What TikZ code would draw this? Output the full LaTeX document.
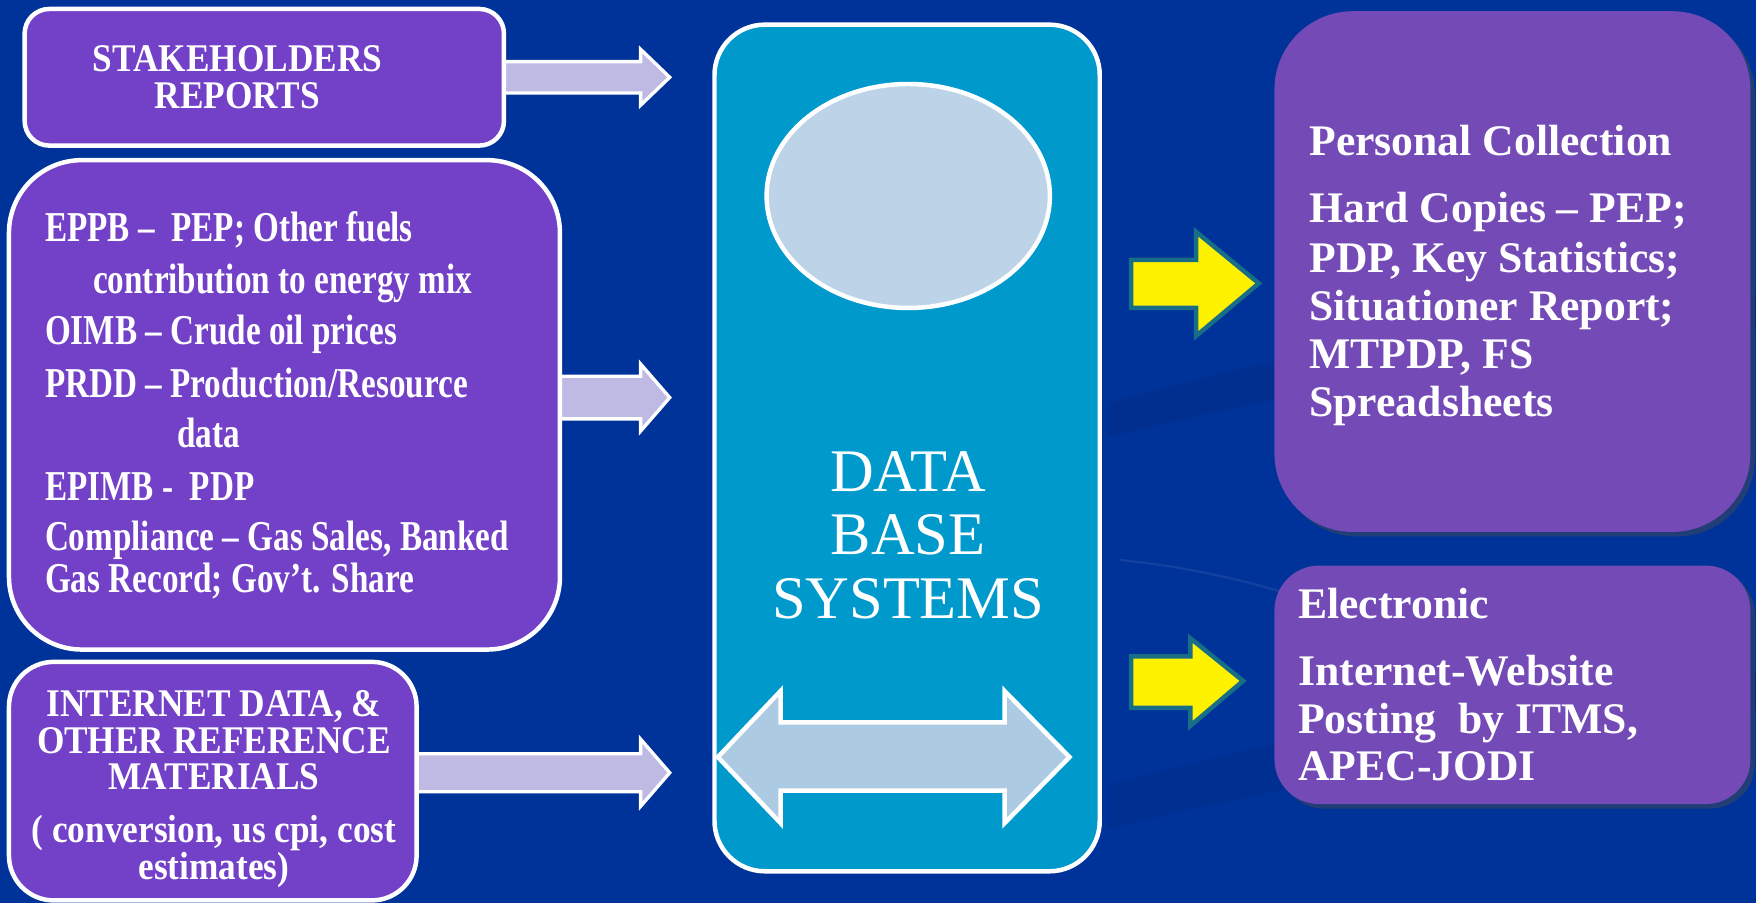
\documentclass[tikz,border=0pt]{standalone}
\usepackage{fontspec}
\setmainfont{Liberation Serif}
\newfontfamily\goudyL[FakeStretch=0.78]{Liberation Serif}
\newfontfamily\goudyC[FakeStretch=0.9]{Liberation Serif}
\newfontfamily\goudyR[FakeStretch=1.0]{Liberation Serif}
\usetikzlibrary{shadows,shapes.geometric}
\definecolor{bg}{RGB}{0,51,153}
\definecolor{bgdark}{RGB}{0,40,130}
\definecolor{leftbox}{RGB}{115,64,200}
\definecolor{rightbox}{RGB}{116,74,182}
\definecolor{cyanbox}{RGB}{0,153,204}
\definecolor{ellfill}{RGB}{189,212,232}
\definecolor{dafill}{RGB}{172,202,226}
\definecolor{arrowfill}{RGB}{190,186,228}
\definecolor{tealborder}{RGB}{25,110,135}
\tikzset{
  lbox/.style={draw=white, line width=4pt, fill=leftbox, rectangle, inner sep=0pt},
  rbox/.style={fill=rightbox, rectangle, inner sep=0pt,
     drop shadow={shadow xshift=4pt, shadow yshift=-4pt, opacity=0.45, fill=black!70}},
  btxt/.style={text=white, font=\goudyL\bfseries\fontsize{38}{41}\selectfont, inner sep=0pt, anchor=base west},
  ctxt/.style={text=white, font=\goudyC\bfseries\fontsize{35}{38}\selectfont, inner sep=0pt, anchor=base},
  rtxt/.style={text=white, font=\goudyR\bfseries\fontsize{39}{43}\selectfont, inner sep=0pt, anchor=base west},
  blockarrow/.style={draw=white, line width=3pt, fill=arrowfill, line join=miter},
  yarrow/.style={draw=tealborder, line width=4pt, fill=yellow, line join=miter},
}
\begin{document}
\begin{tikzpicture}[x=1pt,y=-1pt]
\fill[bg] (0,0) rectangle (1568,806);
\useasboundingbox (0,0) rectangle (1568,806);
% faint background swooshes
\fill[bgdark, opacity=0.35] (990,360) .. controls (1200,300) and (1400,270) .. (1568,262) -- (1568,295) .. controls (1400,305) and (1200,340) .. (990,390) -- cycle;
\fill[bgdark, opacity=0.3] (990,700) .. controls (1200,645) and (1400,610) .. (1568,600) -- (1568,635) .. controls (1400,655) and (1200,690) .. (990,740) -- cycle;
\draw[white, opacity=0.07, line width=2pt] (1000,500) .. controls (1100,510) and (1200,540) .. (1300,590);

% left block arrows (drawn first, tails hidden under boxes)
\draw[blockarrow] (440,55) -- (572,55) -- (572,44) -- (598,69) -- (572,94) -- (572,83) -- (440,83) -- cycle;
\draw[blockarrow] (490,336) -- (572,336) -- (572,325) -- (598,355) -- (572,385) -- (572,374) -- (490,374) -- cycle;
\draw[blockarrow] (362,673) -- (572,673) -- (572,660) -- (598,690) -- (572,720) -- (572,707) -- (362,707) -- cycle;

% left boxes
\node[lbox, minimum width=428pt, minimum height=122pt, rounded corners=22pt] (stk) at (236,69) {};
\node[ctxt] (stk1) at (212,64) {STAKEHOLDERS};
\node[ctxt] (stk2) at (212,97) {REPORTS};

\node[lbox, minimum width=492pt, minimum height=437pt, rounded corners=65pt] (div) at (254,361.5) {};
\node[btxt] (l1) at (40,216) {EPPB –\ \ PEP; Other fuels};
\node[btxt] (l2) at (83,262) {contribution to energy mix};
\node[btxt] (l3) at (40,308) {OIMB – Crude oil prices};
\node[btxt] (l4) at (40,355) {PRDD – Production/Resource};
\node[btxt] (l5) at (158,400) {data};
\node[btxt] (l6) at (40,447) {EPIMB -\ \ PDP};
\node[btxt] (l7) at (40,492) {Compliance – Gas Sales, Banked};
\node[btxt] (l8) at (40,529) {Gas Record; Gov’t. Share};

\node[lbox, minimum width=364pt, minimum height=213pt, rounded corners=40pt] (inet) at (190,697.5) {};
\node[ctxt] (i1) at (191,640) {INTERNET DATA, \&};
\node[ctxt] (i2) at (191,673) {OTHER REFERENCE};
\node[ctxt] (i3) at (191,705) {MATERIALS};
\node[ctxt] (i4) at (191,752) {( conversion, us cpi, cost};
\node[ctxt] (i5) at (191,785) {estimates)};

% centre database box
\node[draw=white, line width=4pt, fill=cyanbox, rectangle, rounded corners=45pt, minimum width=344pt, minimum height=756pt] (db) at (810,400) {};
\node[draw=white, line width=4pt, fill=ellfill, ellipse, minimum width=253pt, minimum height=200pt] (disk) at (811,175) {};
\node[text=white, font=\fontsize{54}{57}\selectfont, align=center, inner sep=0pt] (dbtxt) at (811,478) {DATA\\BASE\\SYSTEMS};
\draw[draw=white, line width=4pt, fill=dafill, line join=miter] (641,676) -- (697,617) -- (697,645) -- (897,645) -- (897,617) -- (955,676) -- (897,735) -- (897,706) -- (697,706) -- (697,735) -- cycle;

% yellow arrows
\draw[yarrow] (1010,232) -- (1068,232) -- (1068,207) -- (1124,253) -- (1068,300) -- (1068,275) -- (1010,275) -- cycle;
\draw[yarrow] (1010,586) -- (1063,586) -- (1063,570) -- (1110,608) -- (1063,648) -- (1063,632) -- (1010,632) -- cycle;

% right boxes
\node[rbox, minimum width=425pt, minimum height=465pt, rounded corners=70pt] (pers) at (1350.5,242.5) {};
\node[rtxt] (p0) at (1169,139) {Personal Collection};
\node[rtxt] (p1) at (1169,199) {Hard Copies – PEP;};
\node[rtxt] (p2) at (1169,243) {PDP, Key Statistics;};
\node[rtxt] (p3) at (1169,286) {Situationer Report;};
\node[rtxt] (p4) at (1169,329) {MTPDP, FS};
\node[rtxt] (p5) at (1169,372) {Spreadsheets};

\node[rbox, minimum width=425pt, minimum height=213pt, rounded corners=40pt] (elec) at (1350.5,611.5) {};
\node[rtxt] (e0) at (1159,552) {Electronic};
\node[rtxt] (e1) at (1159,612) {Internet-Website};
\node[rtxt] (e2) at (1159,655) {Posting\ \ by ITMS,};
\node[rtxt] (e3) at (1159,697) {APEC-JODI};
\end{tikzpicture}
\end{document}
